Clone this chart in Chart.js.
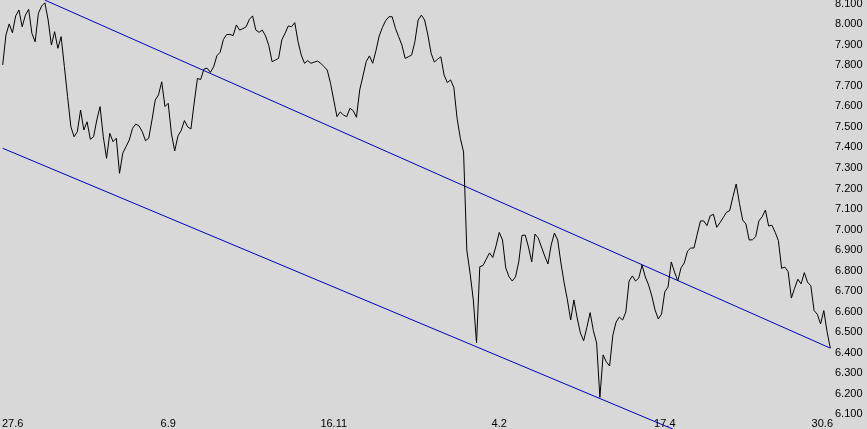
<!DOCTYPE html>
<html>
<head>
<meta charset="utf-8">
<script src="https://cdn.jsdelivr.net/npm/chart.js@4.4.0/dist/chart.umd.min.js"></script>
<style>
  html, body { margin: 0; padding: 0; background: #d8d8d8; }
  #wrap { width: 867px; height: 429px; }
</style>
</head>
<body>
<div id="wrap"><canvas id="myChart" width="867" height="429"></canvas></div>
<script>
// ---------- DATA ----------

// closing values, one per trading day (index 0 = 27.6, index 255 = 30.6)
var prices = [
  7.802, 7.948, 8.002, 7.959, 8.041, 8.070, 7.988, 8.045, 8.073, 7.956,
  7.915, 8.054, 8.089, 8.105, 8.021, 7.899, 7.964, 7.883, 7.940, 7.794,
  7.647, 7.501, 7.452, 7.477, 7.582, 7.485, 7.525, 7.440, 7.452, 7.534,
  7.599, 7.452, 7.347, 7.469, 7.428, 7.445, 7.274, 7.372, 7.404, 7.436,
  7.493, 7.514, 7.505, 7.477, 7.433, 7.445, 7.534, 7.631, 7.656, 7.720,
  7.599, 7.615, 7.466, 7.383, 7.456, 7.483, 7.531, 7.500, 7.490, 7.617,
  7.736, 7.731, 7.782, 7.786, 7.766, 7.793, 7.847, 7.864, 7.926, 7.950,
  7.951, 7.945, 7.997, 7.972, 7.979, 7.988, 8.024, 8.041, 7.972, 7.961,
  7.972, 7.943, 7.896, 7.818, 7.826, 7.834, 7.924, 7.956, 7.992, 7.988,
  8.008, 7.915, 7.850, 7.810, 7.823, 7.810, 7.816, 7.821, 7.810, 7.794,
  7.777, 7.713, 7.631, 7.550, 7.573, 7.558, 7.550, 7.591, 7.579, 7.547,
  7.680, 7.748, 7.818, 7.846, 7.810, 7.871, 7.943, 7.985, 8.018, 8.037,
  8.037, 7.981, 7.940, 7.899, 7.834, 7.842, 7.850, 7.915, 8.021, 8.045,
  8.021, 7.948, 7.859, 7.816, 7.830, 7.842, 7.753, 7.716, 7.729, 7.693,
  7.542, 7.445, 7.378, 6.900, 6.788, 6.657, 6.447, 6.819, 6.825, 6.856,
  6.886, 6.864, 6.920, 6.986, 6.949, 6.813, 6.770, 6.749, 6.769, 6.842,
  6.971, 6.973, 6.915, 6.842, 6.978, 6.959, 6.915, 6.871, 6.832, 6.925,
  6.983, 6.949, 6.837, 6.739, 6.657, 6.559, 6.657, 6.569, 6.496, 6.458,
  6.524, 6.595, 6.507, 6.447, 6.182, 6.389, 6.355, 6.335, 6.486, 6.549,
  6.574, 6.559, 6.598, 6.749, 6.774, 6.749, 6.764, 6.827, 6.769, 6.730,
  6.676, 6.608, 6.564, 6.588, 6.696, 6.720, 6.842, 6.793, 6.749, 6.813,
  6.837, 6.895, 6.910, 6.910, 6.978, 7.042, 7.042, 7.019, 7.067, 7.074,
  7.011, 7.033, 7.058, 7.084, 7.092, 7.160, 7.222, 7.128, 7.046, 7.027,
  6.949, 6.950, 6.965, 7.042, 7.062, 7.095, 7.017, 7.021, 6.987, 6.946,
  6.811, 6.817, 6.795, 6.666, 6.714, 6.758, 6.735, 6.790, 6.743, 6.726,
  6.605, 6.587, 6.540, 6.605, 6.502, 6.422
];

// date labels and the day index they sit on
var dateLabels = ["27.6", "6.9", "16.11", "4.2", "17.4", "30.6"];
var dateIdx = [0, 51, 102, 153, 204, 255];

// right axis tick values
var yTicks = [6.1, 6.2, 6.3, 6.4, 6.5, 6.6, 6.7, 6.8, 6.9, 7.0,
              7.1, 7.2, 7.3, 7.4, 7.5, 7.6, 7.7, 7.8, 7.9, 8.0, 8.1];

// trend lines: start / end (day index, value)
var upperIdx = [13, 255];
var upperVal = [8.118, 6.422];
var lowerIdx = [0, 255];
var lowerVal = [7.396, 5.706];

// ---------- CHART ----------

function toPoints(xs, ys) {
  return xs.map(function (x, i) { return { x: x, y: ys[i] }; });
}

var priceIdx = prices.map(function (v, i) { return i; });

// x-axis labels are drawn inside the plot, along the bottom edge
var dateLabelPlugin = {
  id: 'dateLabels',
  afterDraw: function (chart) {
    var ctx = chart.ctx;
    var xs = chart.scales.x;
    ctx.save();
    ctx.font = '11px "Liberation Sans", Arial, sans-serif';
    ctx.fillStyle = '#000';
    ctx.textBaseline = 'alphabetic';
    for (var k = 0; k < dateLabels.length; k++) {
      var px = xs.getPixelForValue(dateIdx[k]);
      if (k === 0) {
        ctx.textAlign = 'left';
        px = chart.chartArea.left + 2;
      } else if (k === dateLabels.length - 1) {
        ctx.textAlign = 'right';
        px = chart.chartArea.right + 1;
      } else {
        ctx.textAlign = 'center';
      }
      ctx.fillText(dateLabels[k], px, 426.5);
    }
    ctx.restore();
  }
};

var ctx = document.getElementById('myChart').getContext('2d');
var myChart = new Chart(ctx, {
  type: 'line',
  data: {
    datasets: [{
      data: toPoints(priceIdx, prices),
      borderColor: '#000000',
      borderWidth: 1,
      pointRadius: 0,
      tension: 0
    }, {
      data: toPoints(upperIdx, upperVal),
      borderColor: '#0000c0',
      borderWidth: 1,
      pointRadius: 0
    }, {
      data: toPoints(lowerIdx, lowerVal),
      borderColor: '#0000c0',
      borderWidth: 1,
      pointRadius: 0
    }]
  },
  options: {
    responsive: false,
    animation: false,
    devicePixelRatio: 1,
    layout: { padding: 0 },
    plugins: {
      legend: { display: false },
      tooltip: { enabled: false }
    },
    scales: {
      x: {
        type: 'linear',
        display: false,
        min: -0.83,
        max: 255.52
      },
      y: {
        type: 'linear',
        position: 'right',
        min: 6.028,
        max: 8.1185,
        grid: { display: false, drawTicks: false },
        border: { display: false },
        ticks: {
          color: '#000',
          padding: 3,
          font: { family: '"Liberation Sans", Arial, sans-serif', size: 11 },
          callback: function (v) { return Number(v).toFixed(3); }
        },
        afterBuildTicks: function (scale) {
          scale.ticks = yTicks.map(function (v) { return { value: v }; });
        },
        afterFit: function (scale) {
          scale.width = 35;
          scale.paddingTop = 0;
          scale.paddingBottom = 0;
        }
      }
    }
  },
  plugins: [dateLabelPlugin]
});
</script>
</body>
</html>
